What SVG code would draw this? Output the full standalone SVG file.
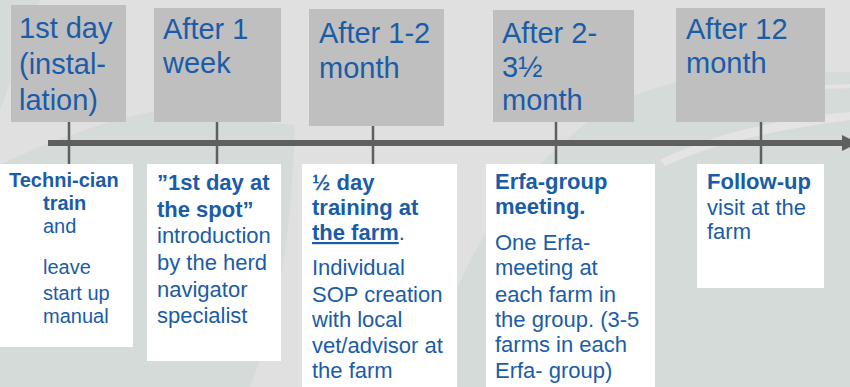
<svg xmlns="http://www.w3.org/2000/svg" width="850" height="387" viewBox="0 0 850 387">
<style>
.bg{fill:#e0e0e0}
.gr{fill:#d5dbd8}
.lt{fill:#e3e4e3}
.hdr{fill:#bfbfbf}
.card{fill:#ffffff}
.t{font-family:"Liberation Sans",Arial,sans-serif;fill:#1a5ca8}
.h{font-size:29px}
.s20{font-size:20px}
.s22{font-size:22px}
.b{font-weight:bold}
.u{text-decoration:underline}
.axis{stroke:#5f5f5f;stroke-width:6;fill:none}
.tick{stroke:#5f5f5f;stroke-width:2.5;fill:none}
.head{fill:#5f5f5f}
</style>
<rect class="bg" x="0" y="0" width="850" height="387"/>
<path class="gr" d="M0,0 L40,0 C25,40 12,80 0,110 Z"/>
<path class="gr" d="M0,165 C50,140 110,120 150,112 L295,125 C292,210 285,300 250,387 L0,387 Z"/>
<path class="gr" d="M430,387 C445,280 500,190 590,120 C640,85 700,68 850,72 L850,387 Z"/>
<path class="lt" d="M660,160 C720,130 790,118 850,112 L850,120 C790,128 720,140 665,166 Z"/>
<path class="lt" d="M780,90 C800,86 820,85 850,84 L850,88 C820,89 800,90 782,93 Z"/>

<g id="connectors">
  <line class="axis" x1="48" y1="143" x2="845" y2="143"/>
  <polygon class="head" points="842,135 858,143 842,151"/>
  <line class="tick" x1="69" y1="121" x2="69" y2="164"/>
  <line class="tick" x1="217" y1="121" x2="217" y2="164"/>
  <line class="tick" x1="373" y1="125" x2="373" y2="164"/>
  <line class="tick" x1="556" y1="121" x2="556" y2="164"/>
  <line class="tick" x1="761" y1="121" x2="761" y2="164"/>
</g>

<g id="stage1">
  <rect class="hdr" x="11" y="5" width="115" height="117"/>
  <text class="t h" x="19" y="38">1st day</text>
  <text class="t h" x="19" y="74">(instal-</text>
  <text class="t h" x="19" y="110">lation)</text>
</g>
<g id="stage2">
  <rect class="hdr" x="154" y="8" width="127" height="114"/>
  <text class="t h" x="163" y="39">After 1</text>
  <text class="t h" x="163" y="73">week</text>
</g>
<g id="stage3">
  <rect class="hdr" x="309" y="9" width="135" height="117"/>
  <text class="t h" x="319" y="43">After 1-2</text>
  <text class="t h" x="319" y="78">month</text>
</g>
<g id="stage4">
  <rect class="hdr" x="493" y="10" width="141" height="112"/>
  <text class="t h" x="502" y="43">After 2-</text>
  <text class="t h" x="502" y="77">3½</text>
  <text class="t h" x="502" y="110">month</text>
</g>
<g id="stage5">
  <rect class="hdr" x="676" y="8" width="149" height="114"/>
  <text class="t h" x="686" y="39">After 12</text>
  <text class="t h" x="686" y="73">month</text>
</g>

<g id="desc1">
  <rect class="card" x="0" y="164" width="133" height="183"/>
  <text class="t s20 b" x="9" y="187">Techni-cian</text>
  <text class="t s20 b" x="43" y="210">train</text>
  <text class="t s20" x="43" y="233">and</text>
  <text class="t s20" x="43" y="274">leave</text>
  <text class="t s20" x="43" y="300">start up</text>
  <text class="t s20" x="43" y="323">manual</text>
</g>
<g id="desc2">
  <rect class="card" x="147" y="164" width="134" height="197"/>
  <text class="t s22 b" x="157" y="190">”1st day at</text>
  <text class="t s22 b" x="157" y="217">the spot”</text>
  <text class="t s22" x="157" y="243">introduction</text>
  <text class="t s22" x="157" y="270">by the herd</text>
  <text class="t s22" x="157" y="297">navigator</text>
  <text class="t s22" x="157" y="323">specialist</text>
</g>
<g id="desc3">
  <rect class="card" x="302" y="164" width="155" height="223"/>
  <text class="t s22 b" x="312" y="190">½ day</text>
  <text class="t s22 b" x="312" y="215">training at</text>
  <text class="t s22" x="312" y="240"><tspan class="b u">the farm</tspan>.</text>
  <text class="t s22" x="312" y="275">Individual</text>
  <text class="t s22" x="312" y="302">SOP creation</text>
  <text class="t s22" x="312" y="327">with local</text>
  <text class="t s22" x="312" y="353">vet/advisor at</text>
  <text class="t s22" x="312" y="378">the farm</text>
</g>
<g id="desc4">
  <rect class="card" x="486" y="164" width="169" height="223"/>
  <text class="t s22 b" x="495" y="189">Erfa-group</text>
  <text class="t s22 b" x="495" y="214">meeting.</text>
  <text class="t s22" x="495" y="250">One Erfa-</text>
  <text class="t s22" x="495" y="275">meeting at</text>
  <text class="t s22" x="495" y="302">each farm in</text>
  <text class="t s22" x="495" y="327">the group. (3-5</text>
  <text class="t s22" x="495" y="352">farms in each</text>
  <text class="t s22" x="495" y="378">Erfa- group)</text>
</g>
<g id="desc5">
  <rect class="card" x="697" y="164" width="127" height="124"/>
  <text class="t s22 b" x="707" y="189">Follow-up</text>
  <text class="t s22" x="707" y="215">visit at the</text>
  <text class="t s22" x="707" y="239">farm</text>
</g>
</svg>
